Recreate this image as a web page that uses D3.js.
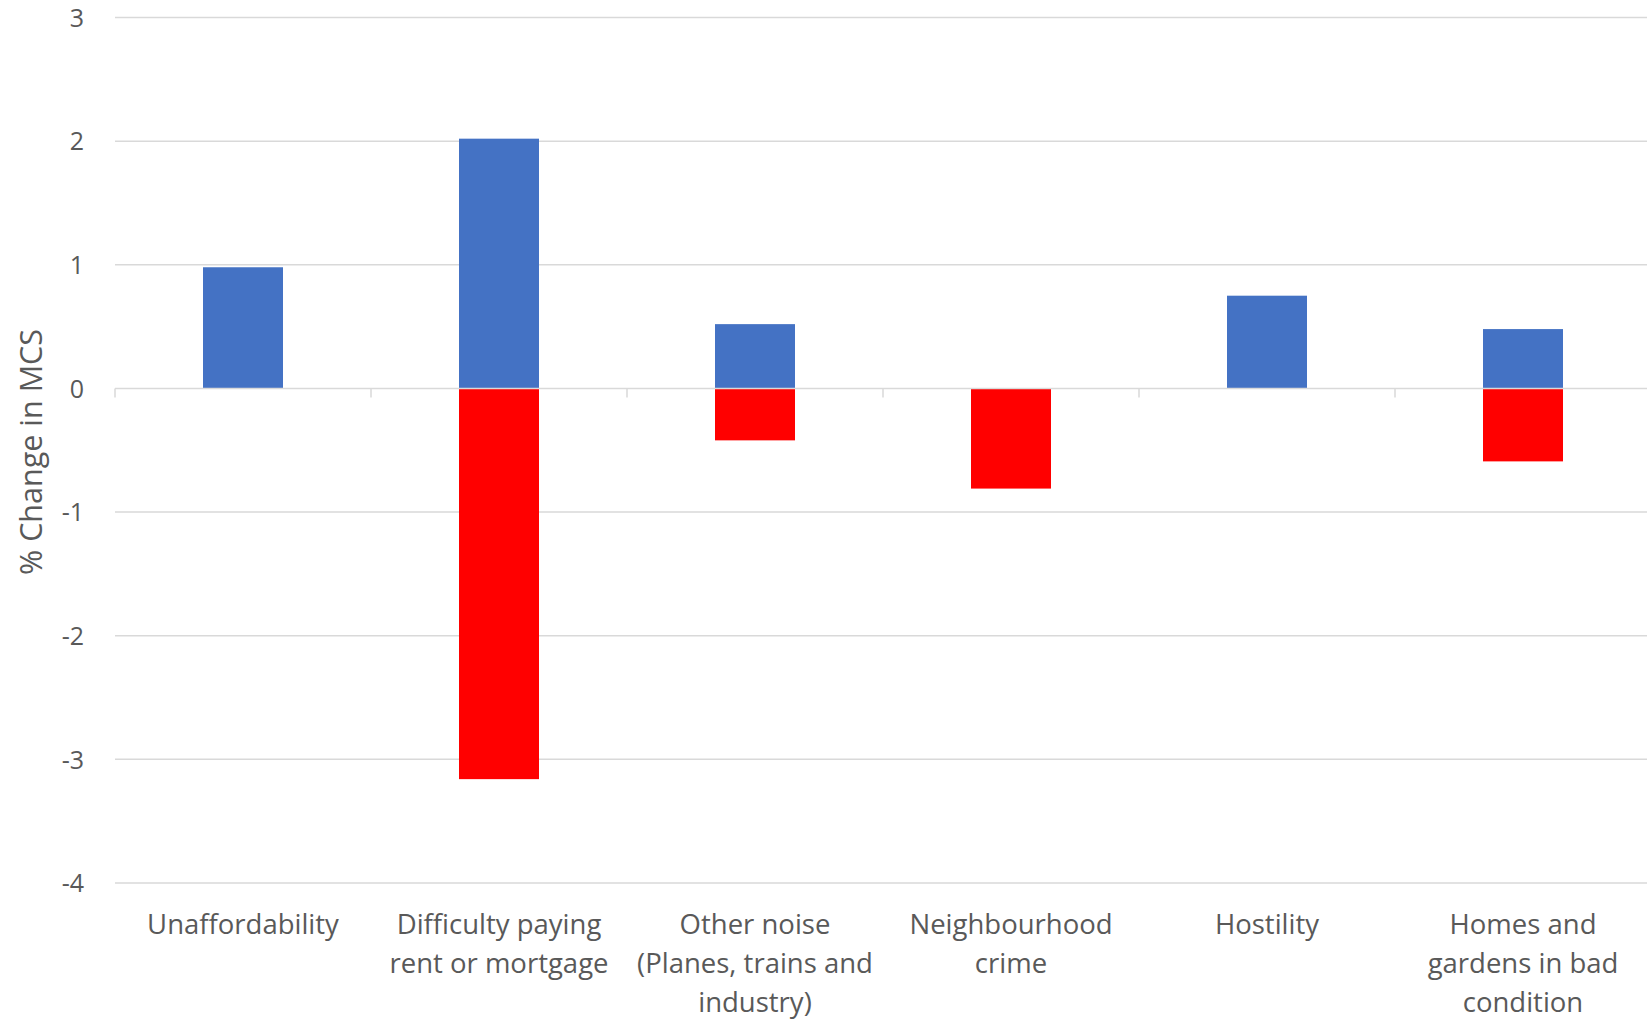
<!DOCTYPE html>
<html>
<head>
<meta charset="utf-8">
<script src="https://cdn.jsdelivr.net/npm/d3@7"></script>
<style>
  html, body { margin: 0; padding: 0; background: #fff; }
  svg { display: block; }
  text { font-family: "Open Sans", "Liberation Sans", sans-serif; fill: #595959; }
</style>
</head>
<body>
<svg id="chart" width="1647" height="1022"></svg>
<script>
// ---- data ----
const categories = [
  "Unaffordability",
  "Difficulty paying rent or mortgage",
  "Other noise (Planes, trains and industry)",
  "Neighbourhood crime",
  "Hostility",
  "Homes and gardens in bad condition"
];
const labelLines = [
  ["Unaffordability"],
  ["Difficulty paying", "rent or mortgage"],
  ["Other noise", "(Planes, trains and", "industry)"],
  ["Neighbourhood", "crime"],
  ["Hostility"],
  ["Homes and", "gardens in bad", "condition"]
];
const positiveValues = [0.98, 2.02, 0.52, 0, 0.75, 0.48];
const negativeValues = [0, -3.16, -0.42, -0.81, 0, -0.59];
const yTicks = [3, 2, 1, 0, -1, -2, -3, -4];
const yTitle = "% Change in MCS";

// ---- layout ----
const svg = d3.select("#chart");
const plotLeft = 115, plotRight = 1651, plotTop = 17.5, plotBottom = 883;

const x = d3.scaleBand().domain(categories).range([plotLeft, plotRight]).padding(0);
const y = d3.scaleLinear().domain([-4, 3]).range([plotBottom, plotTop]);
const barW = x.bandwidth() * 0.3125;

// gridlines
svg.append("g").selectAll("line")
  .data(yTicks.filter(d => d !== 0))
  .join("line")
  .attr("x1", plotLeft).attr("x2", plotRight)
  .attr("y1", d => y(d)).attr("y2", d => y(d))
  .attr("stroke", "#d9d9d9").attr("stroke-width", 1.5);

// y axis labels
const yAxis = d3.axisLeft(y).tickValues(yTicks).tickSize(0).tickPadding(0)
  .tickFormat(d => String(d));
const yg = svg.append("g").attr("transform", `translate(${84},0)`).call(yAxis);
yg.select(".domain").remove();
yg.selectAll("text")
  .style("font-family", '"Open Sans", sans-serif')
  .style("font-size", "25px")
  .attr("fill", "#595959")
  .attr("dy", "0.35em");

// bars
const bars = svg.append("g");
bars.selectAll("rect.pos")
  .data(categories.map((c, i) => ({c, v: positiveValues[i]})).filter(d => d.v !== 0))
  .join("rect").attr("class", "pos")
  .attr("x", d => x(d.c) + (x.bandwidth() - barW) / 2)
  .attr("width", barW)
  .attr("y", d => y(d.v))
  .attr("height", d => y(0) - y(d.v))
  .attr("fill", "#4472c4");
bars.selectAll("rect.neg")
  .data(categories.map((c, i) => ({c, v: negativeValues[i]})).filter(d => d.v !== 0))
  .join("rect").attr("class", "neg")
  .attr("x", d => x(d.c) + (x.bandwidth() - barW) / 2)
  .attr("width", barW)
  .attr("y", y(0))
  .attr("height", d => y(d.v) - y(0))
  .attr("fill", "#ff0000");

// zero axis line with tick marks at category boundaries
const xg = svg.append("g");
xg.append("line")
  .attr("x1", plotLeft).attr("x2", plotRight)
  .attr("y1", y(0)).attr("y2", y(0))
  .attr("stroke", "#d9d9d9").attr("stroke-width", 1.5);
const boundaries = categories.map(c => x(c)).concat([plotRight]);
xg.selectAll("line.tick")
  .data(boundaries)
  .join("line").attr("class", "tick")
  .attr("x1", d => d).attr("x2", d => d)
  .attr("y1", y(0)).attr("y2", y(0) + 9)
  .attr("stroke", "#d9d9d9").attr("stroke-width", 1.5);

// category labels
const cl = svg.append("g");
categories.forEach((c, i) => {
  const t = cl.append("text")
    .attr("x", x(c) + x.bandwidth() / 2)
    .attr("y", 924)
    .attr("text-anchor", "middle")
    .style("font-size", "27.5px");
  labelLines[i].forEach((ln, j) => {
    t.append("tspan")
      .attr("x", x(c) + x.bandwidth() / 2)
      .attr("y", 924 + j * 39)
      .attr("dy", "0.35em")
      .text(ln);
  });
});

// y title
svg.append("text")
  .attr("transform", `translate(31.5,452) rotate(-90)`)
  .attr("text-anchor", "middle")
  .attr("dy", "0.35em")
  .style("font-size", "30.5px")
  .text(yTitle);
</script>
</body>
</html>
